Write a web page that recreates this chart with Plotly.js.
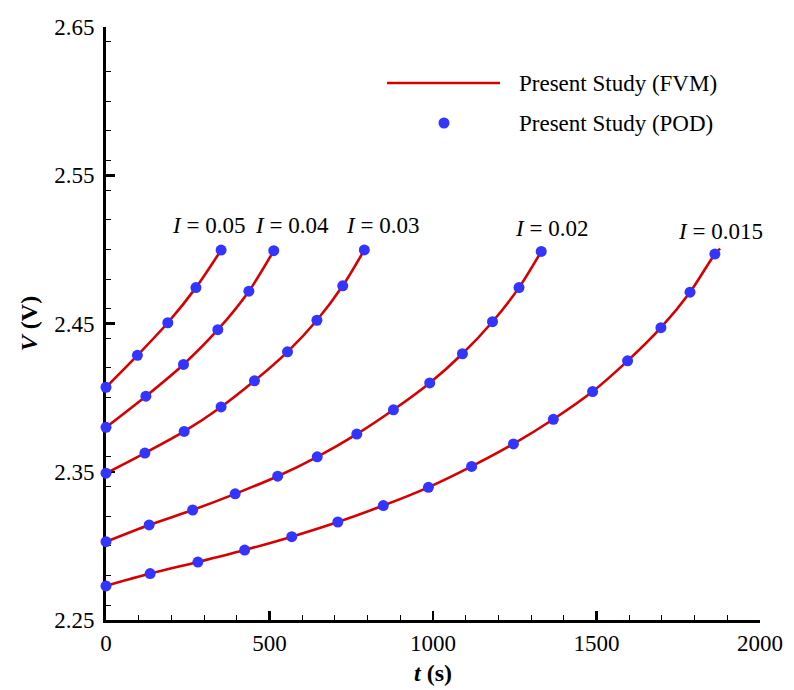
<!DOCTYPE html>
<html>
<head>
<meta charset="utf-8">
<script src="https://cdn.plot.ly/plotly-3.0.1.min.js"></script>
<style>
html,body{margin:0;padding:0;background:#fff;}
#chart{width:794px;height:690px;}
</style>
</head>
<body>
<div id="chart"></div>
<script>
// ---- data ----
const currentLabels = ["I = 0.05", "I = 0.04", "I = 0.03", "I = 0.02", "I = 0.015"];

const t005 = [0, 96, 189, 275, 352];
const v005 = [2.407, 2.4285, 2.4505, 2.4742, 2.4995];

const t004 = [0, 122, 237, 342, 437, 513];
const v004 = [2.380, 2.401, 2.4224, 2.4458, 2.4718, 2.4991];

const t003 = [0, 119, 239, 352, 454, 555, 645, 724, 790];
const v003 = [2.349, 2.3626, 2.3772, 2.3937, 2.4113, 2.4309, 2.4522, 2.4754, 2.4996];

const t002 = [0, 132, 265, 395, 525, 646, 767, 879, 990, 1090, 1182, 1263, 1331];
const v002 = [2.3028, 2.3141, 2.3242, 2.3351, 2.3470, 2.3601, 2.3754, 2.3918, 2.4099, 2.4296, 2.4512, 2.4742, 2.4986];

const t0015 = [0, 135, 281, 424, 568, 709, 848, 986, 1118, 1246, 1368, 1488, 1595, 1697, 1786, 1862];
const v0015 = [2.273, 2.2813, 2.2891, 2.2972, 2.3062, 2.3161, 2.3272, 2.3395, 2.3536, 2.3688, 2.3854, 2.4041, 2.4248, 2.4472, 2.4711, 2.4968];

// FVM curve end (extends slightly past the last POD point for I = 0.015)
const fvmEndT0015 = 1878;
const fvmEndV0015 = 2.5005;

// label anchor points (t, V)
const labelT = [312, 568, 847, 1363, 1878];
const labelV = [2.516, 2.516, 2.516, 2.514, 2.512];

const legendNames = ["Present Study (FVM)", "Present Study (POD)"];

// ---- styling ----
const RED = "rgb(214,0,0)";
const BLUE = "rgb(52,52,255)";
const FONT = "Liberation Serif, Times New Roman, serif";

const seriesT = [t005, t004, t003, t002, t0015];
const seriesV = [v005, v004, v003, v002, v0015];

const traces = [];
seriesT.forEach((t, i) => {
  let lx = t.slice(), ly = seriesV[i].slice();
  if (i === 4) { lx.push(fvmEndT0015); ly.push(fvmEndV0015); }
  traces.push({
    x: lx, y: ly, type: "scatter", mode: "lines",
    line: {color: RED, width: 2.6, shape: "spline", smoothing: 0.8},
    showlegend: false, cliponaxis: false, hoverinfo: "skip"
  });
});
seriesT.forEach((t, i) => {
  traces.push({
    x: t, y: seriesV[i], type: "scatter", mode: "markers",
    marker: {color: BLUE, size: 11, line: {width: 0}},
    showlegend: false, cliponaxis: false
  });
});

const L = 106, R = 760, T = 27, B = 620;
const W = 794, H = 690;
const px = x => (x - L) / (R - L);
const py = y => (B - y) / (B - T);

const annotations = currentLabels.map((lab, i) => {
  const parts = lab.split(" = ");
  return {
    x: labelT[i], y: labelV[i], xref: "x", yref: "y",
    text: "<i>" + parts[0] + "</i> = " + parts[1],
    showarrow: false, font: {family: FONT, size: 23, color: "#000"},
    xanchor: "center", yanchor: "middle"
  };
});
annotations.push({
  x: px(517), y: py(83), xref: "paper", yref: "paper",
  text: legendNames[0], showarrow: false, xanchor: "left", yanchor: "middle",
  font: {family: FONT, size: 23, color: "#000"}
});
annotations.push({
  x: px(517), y: py(123), xref: "paper", yref: "paper",
  text: legendNames[1], showarrow: false, xanchor: "left", yanchor: "middle",
  font: {family: FONT, size: 23, color: "#000"}
});

const shapes = [
  {type: "line", xref: "paper", yref: "paper", x0: px(387), x1: px(500), y0: py(83), y1: py(83),
   line: {color: RED, width: 2.6}},
  {type: "circle", xref: "paper", yref: "paper", xsizemode: "pixel", ysizemode: "pixel",
   xanchor: px(444), yanchor: py(123), x0: -5.5, x1: 5.5, y0: -5.5, y1: 5.5,
   fillcolor: BLUE, line: {width: 0}}
];

const layout = {
  width: W, height: H,
  margin: {l: L, r: W - R, t: T, b: H - B, pad: 0},
  paper_bgcolor: "#fff", plot_bgcolor: "#fff",
  font: {family: FONT, size: 23, color: "#000"},
  showlegend: false,
  xaxis: {
    range: [0, 2000], tick0: 0, dtick: 500, tickmode: "linear",
    showgrid: false, zeroline: false,
    showline: true, linecolor: "#000", linewidth: 3,
    ticks: "inside", ticklen: 9, tickwidth: 2.5, tickcolor: "#000",
    minor: {dtick: 100, ticks: "inside", ticklen: 5, tickwidth: 1, tickcolor: "#000", showgrid: false},
    tickfont: {family: FONT, size: 23, color: "#000"},
    ticklabelstandoff: 0,
    layer: "below traces",
    title: {text: "<b><i>t</i> (s)</b>", font: {family: FONT, size: 24, color: "#000"}, standoff: 10},
    automargin: false, fixedrange: true
  },
  yaxis: {
    range: [2.25, 2.65], tick0: 2.25, dtick: 0.1, tickmode: "linear",
    tickformat: ".2f",
    showgrid: false, zeroline: false,
    showline: true, linecolor: "#000", linewidth: 3,
    ticks: "inside", ticklen: 9, tickwidth: 2.5, tickcolor: "#000",
    minor: {dtick: 0.02, ticks: "inside", ticklen: 5, tickwidth: 1, tickcolor: "#000", showgrid: false},
    tickfont: {family: FONT, size: 23, color: "#000"},
    ticklabelstandoff: 4,
    layer: "below traces",
    title: {text: "<b><i>V</i> (V)</b>", font: {family: FONT, size: 24, color: "#000"}, standoff: 10},
    automargin: false, fixedrange: true
  },
  annotations: annotations,
  shapes: shapes
};

Plotly.newPlot("chart", traces, layout, {displayModeBar: false, staticPlot: true});
</script>
</body>
</html>
